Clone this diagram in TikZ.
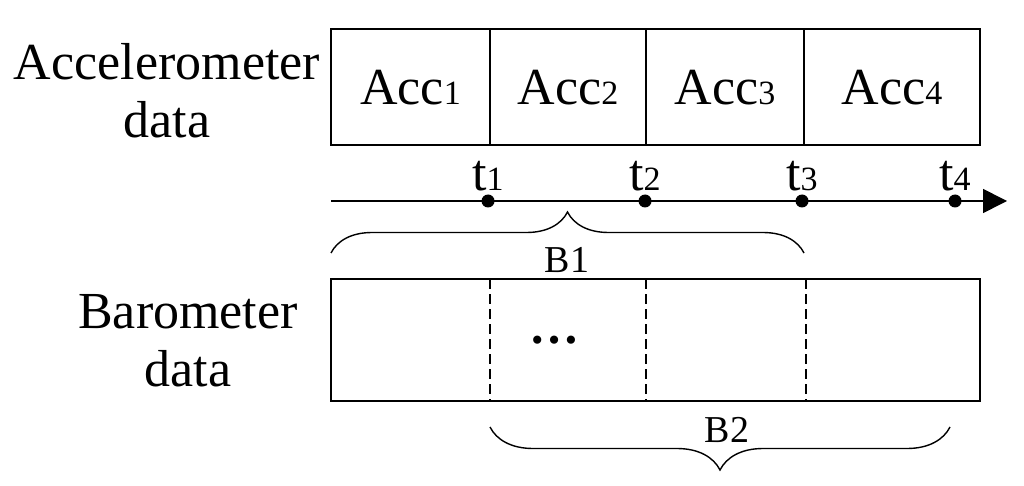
\documentclass[tikz,border=0pt]{standalone}
\usepackage{fontspec}
\setmainfont{Liberation Serif}
\usetikzlibrary{calc}
\usetikzlibrary{arrows.meta}
\usetikzlibrary{decorations.pathreplacing}
\newcommand{\idx}[1]{{\fontsize{34}{34}\selectfont #1}}

\begin{document}
\begin{tikzpicture}[x=1pt,y=1pt,line width=1.6pt,
	every node/.style={inner sep=0pt,font=\fontsize{52}{58}\selectfont},
	bracelbl/.style={font=\fontsize{38}{40}\selectfont,anchor=base}]
	\useasboundingbox (0,0) rectangle (1024,485);
	% accelerometer row
	\coordinate (A) at (331,456);
	\coordinate (B) at (980,340);
	\draw (A) rectangle (B);
	\foreach \x in {490,646,804}
		\draw (\x,456)--(\x,340);
	\node (acc1) at (410.5,397) {Acc\idx{1}};
	\node (acc2) at (568,397) {Acc\idx{2}};
	\node (acc3) at (725,397) {Acc\idx{3}};
	\node (acc4) at (892,397) {Acc\idx{4}};
	\node[align=center] (accl) at (167,394) {Accelerometer\\data};
	
	% time axis
	\coordinate (O) at (331,284);
	\coordinate (E) at (1007,284);
	\draw[-{Triangle[length=24pt,width=24pt]}] (O)--(E);
	\foreach \i/\x in {1/488,2/645,3/802,4/955}{
		\coordinate (t\i) at (\x,284);
		\fill (t\i) circle (6.5pt);
		\node[anchor=south] (lt\i) at ($(t\i)+(0,9)$) {t\idx{\i}};
	}
	
	% windows
	\coordinate (P) at (331,232);
	\coordinate (Q) at (804,232);
	\draw[line width=1.4pt,decorate,decoration={brace,amplitude=41pt}] (P)--(Q);
	\node[bracelbl] (b1) at (567,213) {B1};
	
	% barometer row
	\coordinate (C) at (331,206);
	\coordinate (D) at (980,84);
	\draw (C) rectangle (D);
	\foreach \x in {490,646,806}
		\draw[dash pattern=on 10pt off 5pt] (\x,206)--(\x,84);
	\node[anchor=base] (dots) at (554,142) {\fontsize{50}{50}\selectfont\bfseries …};
	\node[align=center] (barl) at (188,144) {Barometer\\data};
	
	\coordinate (R) at (950,58);
	\coordinate (S) at (490,58);
	\draw[line width=1.4pt,decorate,decoration={brace,amplitude=43pt}] (R)--(S);
	\node[bracelbl] (b2) at (727,43) {B2};
\end{tikzpicture}
\end{document}
